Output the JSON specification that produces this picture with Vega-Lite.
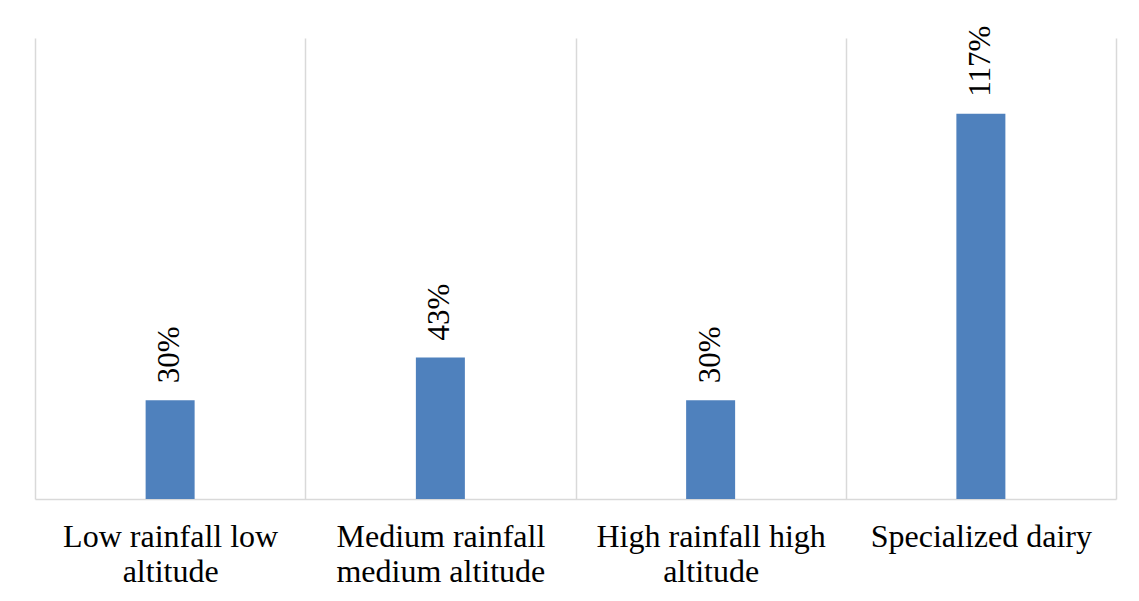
{
  "$schema": "https://vega.github.io/schema/vega-lite/v6.json",
  "width": 1081,
  "height": 461,
  "autosize": "none",
  "padding": {"left": 35, "top": 38, "right": 23, "bottom": 102},
  "background": "white",
  "config": {"view": {"stroke": null}},
  "data": {
    "values": [
      {"region": "Low rainfall low altitude", "share": 0.30},
      {"region": "Medium rainfall medium altitude", "share": 0.43},
      {"region": "High rainfall high altitude", "share": 0.30},
      {"region": "Specialized dairy", "share": 1.17}
    ]
  },
  "encoding": {
    "x": {
      "field": "region",
      "type": "nominal",
      "sort": null,
      "scale": {"paddingInner": 0, "paddingOuter": 0},
      "axis": {
        "title": null,
        "labelAngle": 0,
        "tickBand": "extent",
        "ticks": false,
        "grid": true,
        "gridColor": "#d9d9d9",
        "gridWidth": 1.5,
        "domainColor": "#d9d9d9",
        "domainWidth": 1.5,
        "labelFont": "Times New Roman, Liberation Serif, serif",
        "labelFontSize": 32,
        "labelColor": "black",
        "labelLimit": 0,
        "labelPadding": 22,
        "labelLineHeight": 35,
        "labelExpr": "datum.value == 'Low rainfall low altitude' ? ['Low rainfall low', 'altitude'] : datum.value == 'Medium rainfall medium altitude' ? ['Medium rainfall', 'medium altitude'] : datum.value == 'High rainfall high altitude' ? ['High rainfall high', 'altitude'] : datum.value"
      }
    },
    "y": {
      "field": "share",
      "type": "quantitative",
      "scale": {"domain": [0, 1.4]},
      "axis": null
    }
  },
  "layer": [
    {"mark": {"type": "bar", "width": 49, "color": "#4F81BD"}},
    {
      "mark": {
        "type": "text",
        "angle": 270,
        "align": "left",
        "baseline": "middle",
        "dx": 17,
        "font": "Times New Roman, Liberation Serif, serif",
        "fontSize": 31,
        "color": "black"
      },
      "encoding": {"text": {"field": "share", "format": ".0%"}}
    }
  ]
}
